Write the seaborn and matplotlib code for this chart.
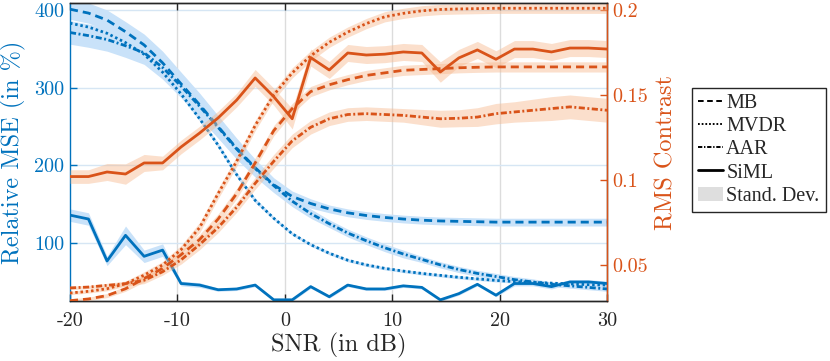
import matplotlib
matplotlib.use("Agg")
import matplotlib.pyplot as plt
import seaborn as sns
from matplotlib.lines import Line2D
from matplotlib.patches import Patch

# ---------------- data ----------------
snr_db = [-20.0, -18.28, -16.55, -14.83, -13.10, -11.38, -9.66, -7.93, -6.21, -4.48,
          -2.76, -1.03, 0.69, 2.41, 4.14, 5.86, 7.59, 9.31, 11.03, 12.76,
          14.48, 16.21, 17.93, 19.66, 21.38, 23.10, 24.83, 26.55, 28.28, 30.0]

# Relative MSE (in %) - left axis
mse_mb = [401, 396, 387, 372, 355, 332, 305, 278, 250, 222, 197, 175, 160, 151, 144,
          139, 135.5, 133, 131, 129.5, 128.5, 128, 127.5, 127, 127, 127, 127, 127, 127, 127]
mse_mvdr = [383, 378, 370, 358, 343, 320, 292, 260, 226, 188, 155, 132, 112, 98, 87,
            78, 72, 67.5, 64, 61, 58.5, 56, 54, 52, 50.5, 49.5, 48.5, 47.5, 46.5, 46]
mse_aar = [371, 367, 362, 354, 345, 326, 302, 276, 249, 221, 196, 174, 154, 138, 125,
           113, 103, 94, 86, 79, 72, 66, 61, 57, 53, 50, 47, 45, 43, 41]
mse_siml = [136, 131, 77, 110, 83, 91, 48, 46, 40, 41, 46, 27, 27, 44, 31,
            46, 41, 41, 45, 43, 27, 35, 47, 33, 48, 48, 44, 50, 50, 48]

std_mse_mb = [13, 13, 13, 13, 14, 15, 15, 15, 14, 13, 11, 9, 7, 6, 5,
              5, 5, 5, 5, 5, 5, 5, 5, 5, 5, 5, 5, 5, 5, 5]
std_mse_mvdr = [3, 3, 3, 3, 3, 3, 3, 3, 3, 3, 3, 2, 2, 2, 2,
                2, 2, 2, 2, 2, 2, 2, 2, 2, 2, 2, 2, 2, 2, 2]
std_mse_aar = [15, 15, 15, 15, 15, 15, 15, 15, 14, 13, 11, 9, 7, 6, 5,
               5, 5, 5, 5, 4, 4, 4, 4, 4, 4, 4, 3, 3, 3, 3]
std_mse_siml = [8, 8, 6, 12, 8, 8, 3, 3, 2, 2, 2, 2, 2, 2, 2,
                2, 2, 2, 2, 2, 2, 2, 2, 2, 3, 3, 3, 3, 3, 3]

# RMS contrast - right axis
rms_mb = [0.029, 0.030, 0.032, 0.036, 0.042, 0.048, 0.056, 0.065, 0.077, 0.092,
          0.110, 0.129, 0.142, 0.152, 0.156, 0.159, 0.1615, 0.163, 0.1645, 0.165,
          0.1655, 0.166, 0.1663, 0.1665, 0.1665, 0.1665, 0.1665, 0.1665, 0.1665, 0.1665]
rms_mvdr = [0.0335, 0.0345, 0.036, 0.039, 0.044, 0.050, 0.059, 0.072, 0.092, 0.111,
            0.132, 0.150, 0.163, 0.173, 0.181, 0.187, 0.192, 0.196, 0.198, 0.1995,
            0.2003, 0.2006, 0.2008, 0.201, 0.201, 0.201, 0.201, 0.201, 0.201, 0.201]
rms_aar = [0.0365, 0.037, 0.038, 0.039, 0.041, 0.046, 0.053, 0.062, 0.072, 0.084,
           0.098, 0.111, 0.123, 0.131, 0.136, 0.1385, 0.139, 0.1385, 0.138, 0.137,
           0.136, 0.1363, 0.137, 0.139, 0.140, 0.141, 0.142, 0.143, 0.142, 0.141]
rms_siml = [0.102, 0.102, 0.1047, 0.1035, 0.110, 0.110, 0.1194, 0.1276, 0.1365, 0.147,
            0.160, 0.149, 0.136, 0.172, 0.1647, 0.1747, 0.1735, 0.174, 0.1753, 0.1747,
            0.1635, 0.1718, 0.1765, 0.171, 0.177, 0.177, 0.1753, 0.1776, 0.1776, 0.177]

std_rms_mb = [0.001, 0.001, 0.0012, 0.0015, 0.002, 0.002, 0.0025, 0.003, 0.003, 0.003,
              0.003, 0.003, 0.003, 0.003, 0.003, 0.003, 0.003, 0.003, 0.003, 0.003,
              0.003, 0.003, 0.003, 0.003, 0.003, 0.003, 0.003, 0.003, 0.003, 0.003]
std_rms_mvdr = [0.001, 0.001, 0.0012, 0.0015, 0.002, 0.002, 0.0025, 0.003, 0.003, 0.003,
                0.003, 0.003, 0.003, 0.003, 0.003, 0.003, 0.003, 0.003, 0.003, 0.003,
                0.003, 0.003, 0.003, 0.003, 0.003, 0.003, 0.003, 0.003, 0.003, 0.003]
std_rms_aar = [0.001, 0.001, 0.0012, 0.0015, 0.002, 0.002, 0.0025, 0.003, 0.003, 0.003,
               0.0035, 0.004, 0.004, 0.004, 0.004, 0.004, 0.004, 0.004, 0.004, 0.0045,
               0.005, 0.005, 0.0055, 0.006, 0.006, 0.0065, 0.007, 0.007, 0.007, 0.007]
std_rms_siml = [0.004, 0.004, 0.005, 0.006, 0.005, 0.004, 0.004, 0.004, 0.004, 0.004,
                0.005, 0.005, 0.006, 0.005, 0.005, 0.005, 0.005, 0.005, 0.005, 0.005,
                0.006, 0.005, 0.005, 0.005, 0.005, 0.005, 0.005, 0.005, 0.005, 0.005]

legend_labels = ["MB", "MVDR", "AAR", "SiML", "Stand. Dev."]
x_ticks = [-20, -10, 0, 10, 20, 30]
left_ticks = [100, 200, 300, 400]
right_ticks = [0.05, 0.1, 0.15, 0.2]

# ---------------- style ----------------
sns.set_theme(style="white")
plt.rcParams["font.family"] = ["cmr10", "DejaVu Serif"]
plt.rcParams["axes.unicode_minus"] = False
plt.rcParams["axes.formatter.use_mathtext"] = True

BLUE = "#0072BD"
ORANGE = "#D95319"
BLUE_BAND = "#c9e2f9"
ORANGE_BAND = "#f7b98e"

LS_MB = (0, (2.9, 1.8))
LS_MVDR = (0, (0.9, 1.0))
LS_AAR = (0, (2.2, 0.9, 0.7, 0.9))
LS_SIML = "-"
LW = 2.0

fig = plt.figure(figsize=(8.3, 3.61), dpi=100)
ax = fig.add_axes([70 / 830, 1 - 301 / 361, (607 - 70) / 830, (301 - 3) / 361])
ax2 = ax.twinx()


def band(a, y, s, color, alpha):
    lo = [v - e for v, e in zip(y, s)]
    hi = [v + e for v, e in zip(y, s)]
    a.fill_between(snr_db, lo, hi, color=color, alpha=alpha, lw=0, zorder=1)


# left axis (blue)
for y, s in [(mse_mb, std_mse_mb), (mse_mvdr, std_mse_mvdr), (mse_aar, std_mse_aar),
             (mse_siml, std_mse_siml)]:
    band(ax, y, s, BLUE_BAND, 1.0)
for y, ls in [(mse_mb, LS_MB), (mse_mvdr, LS_MVDR), (mse_aar, LS_AAR), (mse_siml, LS_SIML)]:
    sns.lineplot(x=snr_db, y=y, ax=ax, color=BLUE, linestyle=ls, lw=LW, errorbar=None,
                 zorder=3)

# right axis (orange)
for y, s in [(rms_mb, std_rms_mb), (rms_mvdr, std_rms_mvdr), (rms_aar, std_rms_aar),
             (rms_siml, std_rms_siml)]:
    band(ax2, y, s, ORANGE_BAND, 0.45)
for y, ls in [(rms_mb, LS_MB), (rms_mvdr, LS_MVDR), (rms_aar, LS_AAR), (rms_siml, LS_SIML)]:
    sns.lineplot(x=snr_db, y=y, ax=ax2, color=ORANGE, linestyle=ls, lw=LW, errorbar=None,
                 zorder=3)

# axes limits & ticks
ax.set_xlim(-20, 30)
ax.set_ylim(25.5, 409)
ax2.set_ylim(0.0288, 0.2041)
ax.set_xticks(x_ticks)
ax.set_xticklabels([str(t) for t in x_ticks])
ax.set_yticks(left_ticks)
ax.set_yticklabels([str(t) for t in left_ticks])
ax2.set_yticks(right_ticks)
ax2.set_yticklabels(["0.05", "0.1", "0.15", "0.2"])

# grid
ax.set_axisbelow(True)
ax.grid(False)
for t in x_ticks[1:-1]:
    ax.axvline(t, color="#dcdcdc", lw=1.0, zorder=0)
for t in left_ticks:
    ax.axhline(t, color="#d6e6f4", lw=1.0, zorder=0)
ax2.grid(False)

# spines
for a in (ax, ax2):
    for sp in a.spines.values():
        sp.set_visible(True)
        sp.set_linewidth(1.0)
ax.spines["left"].set_color(BLUE)
ax.spines["top"].set_color("#262626")
ax.spines["bottom"].set_color("#262626")
ax2.spines["right"].set_color(ORANGE)
ax2.spines["left"].set_visible(False)
ax2.spines["top"].set_color("#262626")
ax2.spines["bottom"].set_color("#262626")

ax.tick_params(axis="x", which="both", direction="in", top=True, bottom=True,
               length=5, width=1, colors="#262626", labelsize=14.5, pad=8,
               labelcolor="#262626")
ax.tick_params(axis="y", direction="in", left=True, right=False, length=5, width=1,
               color=BLUE, labelcolor=BLUE, labelsize=14.5, pad=4)
ax2.tick_params(axis="y", direction="in", right=True, left=False, length=5, width=1,
                color=ORANGE, labelcolor=ORANGE, labelsize=14.5, pad=4)

ax.set_xlabel("SNR (in dB)", fontsize=17.5, color="#262626", labelpad=2)
ax.set_ylabel("Relative MSE (in %)", fontsize=17.5, color=BLUE, labelpad=6)
ax2.set_ylabel("RMS Contrast", fontsize=17.5, color=ORANGE, labelpad=5)

# legend
handles = [
    Line2D([], [], color="black", linestyle=LS_MB, lw=1.4),
    Line2D([], [], color="black", linestyle=LS_MVDR, lw=1.4),
    Line2D([], [], color="black", linestyle=LS_AAR, lw=1.4),
    Line2D([], [], color="black", linestyle=LS_SIML, lw=2.0),
    Patch(facecolor="#dedede", edgecolor="none"),
]
leg = fig.legend(handles, legend_labels, loc="upper left",
                 bbox_to_anchor=(692 / 830, 1 - 88 / 361),
                 prop={"family": "Liberation Serif", "size": 14.5},
                 frameon=True, fancybox=False, edgecolor="#262626", framealpha=1,
                 borderpad=0.3, borderaxespad=0, handlelength=1.25,
                 handletextpad=0.15, labelspacing=0.2)
leg.get_frame().set_linewidth(1.0)

fig.savefig("out.png", dpi=100)
